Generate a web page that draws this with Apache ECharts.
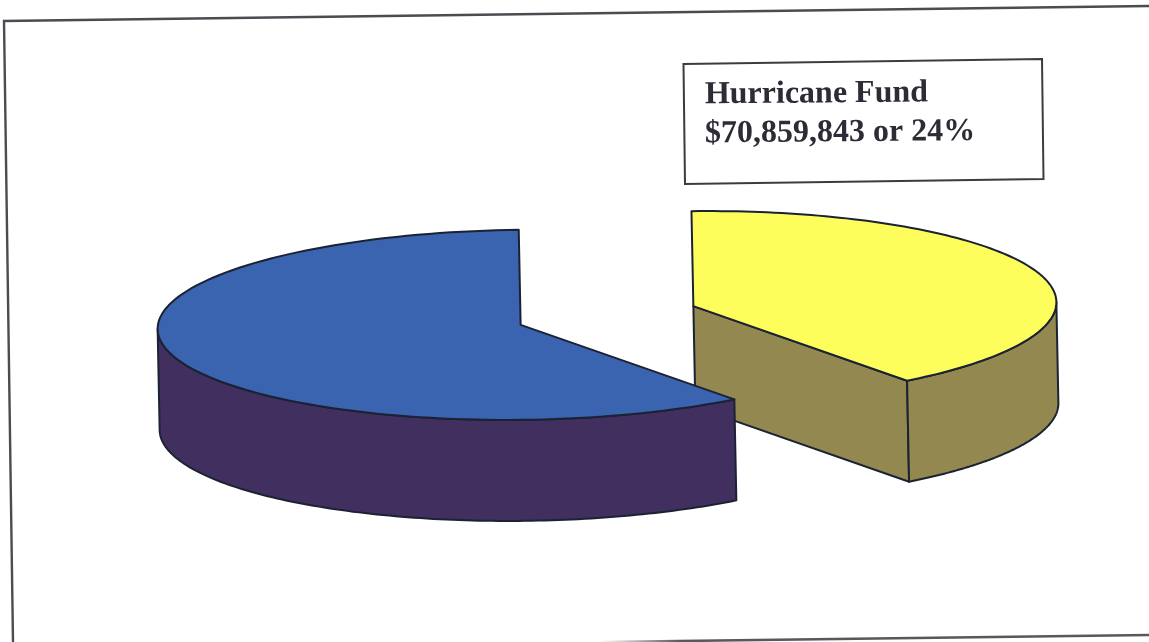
<!DOCTYPE html>
<html>
<head>
<meta charset="utf-8">
<title>Hurricane Fund</title>
<style>html,body{margin:0;padding:0;background:#fff}#chart{width:1149px;height:642px}</style>
<script src="https://cdn.jsdelivr.net/npm/echarts@6/dist/echarts.min.js"></script>
</head>
<body>
<div id="chart"></div>
<script>
// Slice values in dollars; the second is an estimate, the first is the stated fund amount.
var sliceNames = ['Hurricane Fund', 'Other funds'];
var sliceValues = [70859843, 106000000];
var topColors = ['#fdfd5c', '#3a63b0'];
var sideColors = ['#93884f', '#41305f'];
var calloutLines = ['Hurricane Fund', '$70,859,843 or 24%'];

// Oblique pie geometry
var pie = {
  cx: 607, cy: 315.5, rx: 363, ry: 95, depth: 101,
  explodeX: 0.25, explodeY: 0.32, skewX: 0.02, skewY: -0.012
};
var outline = '#1b2233';
var total = sliceValues.reduce(function (a, b) { return a + b; }, 0);

// Angle runs clockwise from 12 o'clock; z lifts the point down the pie's wall.
function project(origin, angle, z) {
  var sx = pie.rx * Math.sin(angle), cy = -pie.ry * Math.cos(angle);
  return [
    origin[0] + sx + cy * pie.skewX + z * pie.skewX,
    origin[1] + cy + sx * pie.skewY + z
  ];
}
function arc(origin, from, to, z) {
  var pts = [], n = 120;
  for (var i = 0; i <= n; i++) pts.push(project(origin, from + (to - from) * i / n, z));
  return pts;
}
function polygon(points, fill) {
  return {
    type: 'polygon',
    shape: { points: points },
    style: { fill: fill, stroke: outline, lineWidth: 2, lineJoin: 'round' }
  };
}

function renderSlice(params, api) {
  var i = params.dataIndex;
  var before = 0;
  for (var k = 0; k < i; k++) before += sliceValues[k];
  var value = api.value(0);
  var start = before / total * Math.PI * 2;
  var end = (before + value) / total * Math.PI * 2;
  var mid = (start + end) / 2;
  var origin = [
    pie.cx + pie.explodeX * pie.rx * Math.sin(mid),
    pie.cy - pie.explodeY * pie.ry * Math.cos(mid)
  ];
  var apexLow = [origin[0] + pie.depth * pie.skewX, origin[1] + pie.depth];
  var children = [];

  // Cut face that turns toward the viewer
  if (end < Math.PI) {
    children.push(polygon([origin, project(origin, end, 0), project(origin, end, pie.depth), apexLow], sideColors[i]));
  }
  // Outer wall: only the part of the rim on the near side is visible
  var wallFrom = Math.max(start, Math.PI / 2);
  var wallTo = Math.min(end, Math.PI * 1.5);
  if (wallTo > wallFrom) {
    var rim = arc(origin, wallFrom, wallTo, 0);
    var foot = arc(origin, wallFrom, wallTo, pie.depth).reverse();
    children.push(polygon(rim.concat(foot), sideColors[i]));
  }
  // Top face
  children.push(polygon([origin].concat(arc(origin, start, end, 0)), topColors[i]));
  return { type: 'group', children: children };
}

var chart = echarts.init(document.getElementById('chart'), null, { renderer: 'canvas' });
chart.setOption({
  animation: false,
  backgroundColor: '#ffffff',
  series: [{
    type: 'custom',
    coordinateSystem: 'none',
    silent: true,
    z: 5,
    data: sliceValues.map(function (v, i) { return { name: sliceNames[i], value: [v] }; }),
    renderItem: renderSlice
  }],
  graphic: [
    // Outer frame
    { type: 'polyline', z: 1, silent: true,
      shape: { points: [[13, 642], [4, 21], [1149, 6]] },
      style: { fill: 'none', stroke: '#4a4c52', lineWidth: 2.4 } },
    { type: 'line', z: 1, silent: true,
      shape: { x1: 600, y1: 642, x2: 1149, y2: 635 },
      style: {
        lineWidth: 2.6,
        stroke: new echarts.graphic.LinearGradient(0, 0, 1, 0, [
          { offset: 0, color: 'rgba(70,70,75,0)' },
          { offset: 0.15, color: 'rgba(70,70,75,0.9)' },
          { offset: 1, color: 'rgba(70,70,75,0.9)' }
        ])
      } },
    // Callout box
    { type: 'polygon', z: 6, silent: true,
      shape: { points: [[683.5, 64], [1042, 59], [1043.5, 179], [685, 184]] },
      style: { fill: '#ffffff', stroke: '#3a3c42', lineWidth: 2 } },
    { type: 'text', z: 7, silent: true, x: 705, y: 111, rotation: 0.008,
      style: { text: calloutLines[0], fill: '#2c2c36', textVerticalAlign: 'bottom',
        font: 'bold 32px "Liberation Serif", serif' } },
    { type: 'text', z: 7, silent: true, x: 705, y: 150, rotation: 0.008,
      style: { text: calloutLines[1], fill: '#2c2c36', textVerticalAlign: 'bottom',
        font: 'bold 32px "Liberation Serif", serif' } }
  ]
});
</script>
</body>
</html>
